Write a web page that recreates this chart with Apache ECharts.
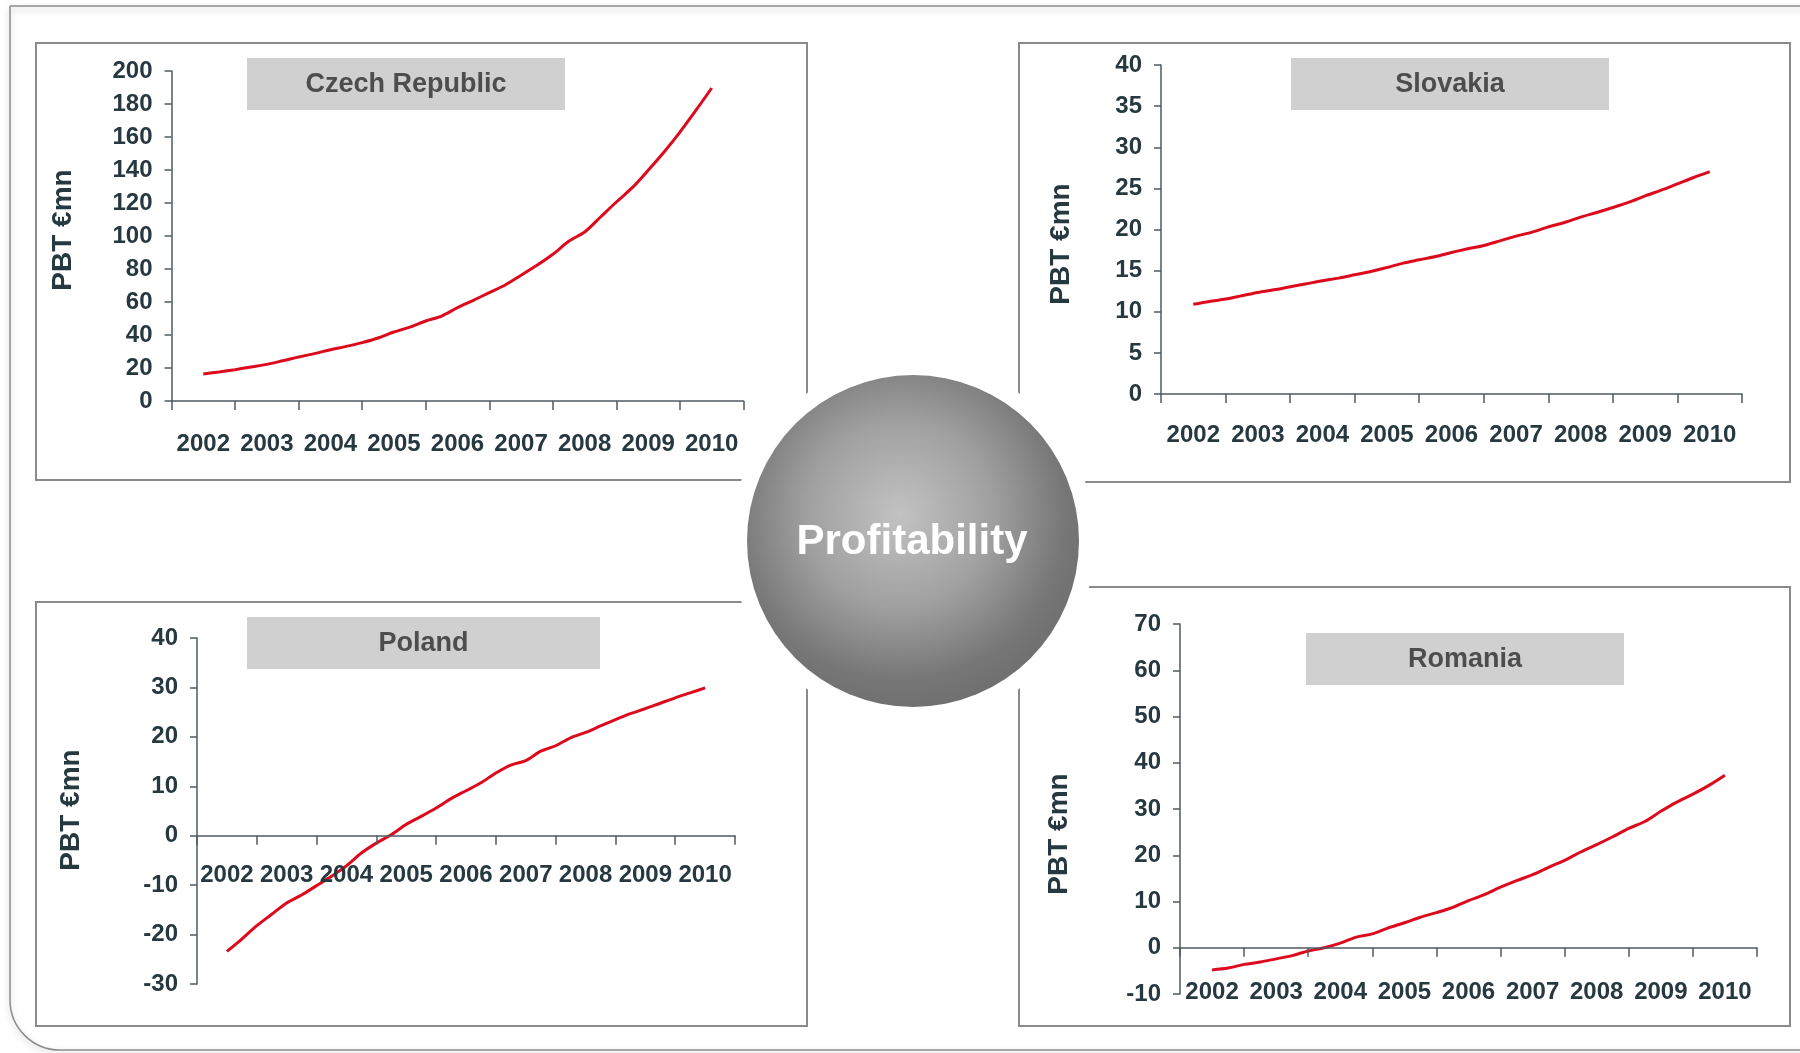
<!DOCTYPE html>
<html>
<head>
<meta charset="utf-8">
<script src="https://cdn.jsdelivr.net/npm/echarts@6/dist/echarts.min.js"></script>
<style>
html,body{margin:0;padding:0;background:#fff;}
#chart{width:1800px;height:1053px;}
</style>
</head>
<body>
<div id="chart"></div>
<script>
// ---------- DATA ----------
const years = ['2002','2003','2004','2005','2006','2007','2008','2009','2010'];
const timePoints = [2002,2002.25,2002.5,2002.75,2003,2003.25,2003.5,2003.75,2004,2004.25,2004.5,2004.75,
  2005,2005.25,2005.5,2005.75,2006,2006.25,2006.5,2006.75,2007,2007.25,2007.5,2007.75,
  2008,2008.25,2008.5,2008.75,2009,2009.25,2009.5,2009.75,2010];
const czech = [16.4,17.6,19.0,20.6, 22.2,24.4,26.7,28.7, 31.1,33.1,35.4,38.2, 41.8,44.8,48.5,51.5,
  56.6,61.0,65.7,70.3, 76.2,82.2,88.9,96.8, 102.4,111.5,120.6,129.3, 139.8,150.9,163.0,176.1, 189.7];
const slovakia = [10.9,11.25,11.54,11.94, 12.35,12.67,13.04,13.4, 13.77,14.09,14.49,14.9, 15.38,15.91,16.32,16.72,
  17.2,17.65,18.06,18.62, 19.19,19.68,20.32,20.85, 21.5,22.07,22.67,23.32, 24.09,24.78,25.55,26.32, 27.04];
const poland = [-23.4,-20.9,-18.2,-15.9, -13.6,-12.0,-10.1,-8.2, -6.1,-3.5,-1.5,0.2, 2.3,3.9,5.6,7.5,
  9.1,10.7,12.7,14.3, 15.2,17.1,18.2,19.8, 20.9,22.2,23.5,24.7, 25.7,26.8,27.9,28.9, 29.9];
const romania = [-4.8,-4.4,-3.6,-3.1, -2.4,-1.7,-0.7,0.0, 1.0,2.3,3.0,4.3, 5.4,6.6,7.6,8.7,
  10.2,11.5,13.1,14.5, 15.8,17.4,18.9,20.7, 22.3,24.0,25.8,27.3, 29.5,31.5,33.2,35.1, 37.3];
const countries = ['Czech Republic','Slovakia','Poland','Romania'];
const yMin = [0, 0, -30, -10];
const yMax = [200, 40, 40, 70];
const yStep = [20, 5, 10, 10];
const yAxisTitle = 'PBT €mn';
const centerTitle = 'Profitability';

// ---------- LAYOUT ----------
const FONT = '"Liberation Sans", Arial, sans-serif';
const LABEL_COLOR = '#263840';
const AXIS_COLOR = '#4d5b61';
const grids = [
  {left:171.5, top:71, width:572, height:330},
  {left:1161, top:65, width:581, height:329},
  {left:197, top:638, width:538, height:346},
  {left:1180, top:624, width:577, height:370}
];
// x labels are laid out from the grid bottom; negative margins lift them under the zero line
const xLabelMargin = [31, 29, -121, -14];
const panels = [
  {x:36, y:43, w:771, h:437},
  {x:1019, y:43, w:771, h:439},
  {x:36, y:602, w:771, h:424},
  {x:1019, y:587, w:771, h:439}
];
const titleBoxes = [
  {x:247, y:58, w:318, h:52},
  {x:1291, y:58, w:318, h:52},
  {x:247, y:617, w:353, h:52},
  {x:1306, y:633, w:318, h:52}
];
const yNamePos = [[63,230],[1061,244],[71,810],[1059,834]];
const seriesData = [czech, slovakia, poland, romania];

const xAxes = [], yAxes = [], series = [];
for (let i = 0; i < 4; i++) {
  xAxes.push({
    type:'category', gridIndex:i, position:'bottom', data:years, boundaryGap:true,
    axisLine:{show:true, onZero:true, onZeroAxisIndex:i, lineStyle:{color:AXIS_COLOR, width:1.5}},
    axisTick:{show:true, inside:false, length:9, lineStyle:{color:AXIS_COLOR, width:1.5}},
    axisLabel:{interval:0, margin:xLabelMargin[i], fontSize:24, fontWeight:'bold', fontFamily:FONT, color:LABEL_COLOR},
    splitLine:{show:false}, z:6
  });
  yAxes.push({
    type:'value', gridIndex:i, position:'left', min:yMin[i], max:yMax[i], interval:yStep[i],
    axisLine:{show:true, onZero:false, lineStyle:{color:AXIS_COLOR, width:1.5}},
    axisTick:{show:true, inside:false, length:7, lineStyle:{color:AXIS_COLOR, width:1.5}},
    axisLabel:{margin:19, fontSize:24, fontWeight:'bold', fontFamily:FONT, color:LABEL_COLOR},
    splitLine:{show:false}, z:6
  });
}
for (let i = 0; i < 4; i++) {
  xAxes.push({type:'value', gridIndex:i, position:'top', show:false, min:2001.5, max:2010.5,
    axisLine:{onZero:false}, splitLine:{show:false}});
  series.push({
    type:'line', name:countries[i], xAxisIndex:4+i, yAxisIndex:i,
    data: timePoints.map((t,j)=>[t, seriesData[i][j]]),
    showSymbol:false, smooth:0.3,
    lineStyle:{color:'#dc0a1c', width:3},
    z:5
  });
}

const graphics = [];
// outer frame
graphics.push({type:'rect', z:0, silent:true, shape:{x:10, y:6, width:1830, height:1044, r:[0,0,0,50]},
  style:{fill:null, stroke:'#8c8c8c', lineWidth:1.5, shadowBlur:6, shadowColor:'rgba(0,0,0,0.25)', shadowOffsetY:3}});
for (let i = 0; i < 4; i++) {
  const p = panels[i];
  graphics.push({type:'rect', z:1, silent:true, shape:{x:p.x, y:p.y, width:p.w, height:p.h},
    style:{fill:null, stroke:'#8a8a8a', lineWidth:2}});
  const t = titleBoxes[i];
  graphics.push({type:'rect', z:3, shape:{x:t.x, y:t.y, width:t.w, height:t.h}, style:{fill:'#d0d0d0'}});
  graphics.push({type:'text', z:4, x:t.x + t.w/2, y:t.y + t.h/2 + 1,
    style:{text:countries[i], font:'bold 27px ' + FONT, fill:'#4d4d4d', align:'center', verticalAlign:'middle'}});
  graphics.push({type:'text', z:4, x:yNamePos[i][0], y:yNamePos[i][1], rotation:Math.PI/2,
    style:{text:yAxisTitle, font:'bold 28px ' + FONT, fill:LABEL_COLOR, align:'center', verticalAlign:'middle'}});
}
// center circle with white gap
graphics.push({type:'circle', z:20, shape:{cx:913, cy:541, r:182}, style:{fill:'#fff'}});
graphics.push({type:'circle', z:21, shape:{cx:913, cy:541, r:166},
  style:{fill:{type:'radial', x:0.46, y:0.42, r:0.62,
    colorStops:[{offset:0, color:'#c2c2c2'},{offset:0.45, color:'#a0a0a0'},{offset:0.8, color:'#777777'},{offset:1, color:'#6d6d6d'}]}}});
graphics.push({type:'text', z:22, x:912, y:542,
  style:{text:centerTitle, font:'bold 42px ' + FONT, fill:'#ffffff', align:'center', verticalAlign:'middle'}});

const chart = echarts.init(document.getElementById('chart'), null, {renderer:'canvas'});
chart.setOption({
  backgroundColor:'#ffffff',
  animation:false,
  grid:grids.map(g=>Object.assign({containLabel:false}, g)),
  xAxis:xAxes,
  yAxis:yAxes,
  series:series,
  graphic:{elements:graphics}
});
</script>
</body>
</html>
